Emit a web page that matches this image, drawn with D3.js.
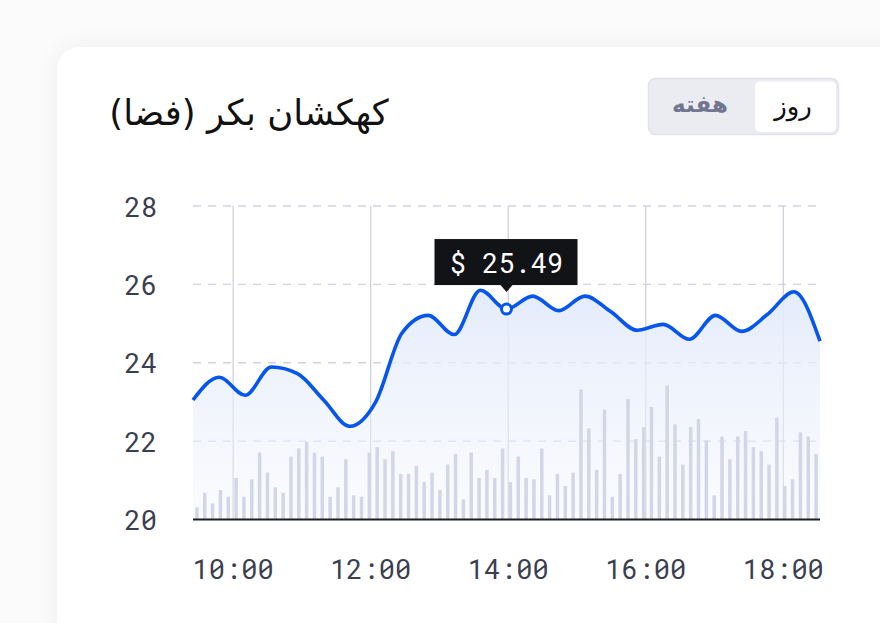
<!DOCTYPE html>
<html>
<head>
<meta charset="utf-8">
<script src="https://cdn.jsdelivr.net/npm/d3@7"></script>
<style>
  html, body { margin: 0; padding: 0; background: #fbfbfb; overflow: hidden; }
  body { width: 880px; height: 623px; position: relative; }
  #card { position: absolute; left: 57px; top: 47px; width: 900px; height: 700px;
          background: #fff; border-radius: 22px; box-shadow: 0 0 26px rgba(0,0,0,0.055); }
  svg { position: absolute; left: 0; top: 0; }
</style>
</head>
<body>
<div id="card"></div>
<svg id="chart" width="880" height="623"></svg>
<script>
// ---- data ----
const title = "کهکشان بکر (فضا)";
const toggleLabels = ["روز", "هفته"];
const priceValues = [23.05, 23.63, 23.17, 23.89, 23.72, 23.05, 22.38, 23.01, 24.76, 25.21,
  24.72, 25.85, 25.37, 25.70, 25.33, 25.70, 25.30, 24.83, 24.98, 24.60,
  25.21, 24.80, 25.24, 25.81, 24.55];
const volumeValues = [9, 20, 12, 22, 17, 31, 17, 30, 50, 35, 24, 20, 47, 53, 58, 50, 47, 17, 24, 45,
  18, 17, 50, 54, 45, 51, 34, 34, 40, 28, 35, 22, 41, 49, 15, 50, 31, 37, 31, 53,
  28, 47, 31, 30, 53, 18, 34, 25, 35, 97, 68, 37, 82, 17, 34, 90, 60, 69, 84, 47,
  100, 71, 41, 69, 75, 59, 18, 62, 45, 62, 66, 54, 51, 41, 76, 25, 30, 65, 62, 49];
const yTicks = [20, 22, 24, 26, 28];
const timeStart = new Date(2024, 0, 1, 9, 25);
const timeEnd = new Date(2024, 0, 1, 18, 32);
const tooltipIndex = 12;
const tooltipLabel = "$ 25.49";

// ---- layout ----
const L = 193, R = 820, T = 206, B = 519.5;
const mono = "'Roboto Mono', 'DejaVu Sans Mono', monospace";
const svg = d3.select("#chart");

const y = d3.scaleLinear().domain([20, 28]).range([B, T]);
const xp = d3.scalePoint().domain(d3.range(priceValues.length)).range([L, R]);
const xb = d3.scaleBand().domain(d3.range(volumeValues.length)).range([L, R])
  .paddingInner(0.55).paddingOuter(0.275);
const vol = d3.scaleLinear().domain([0, 100]).range([0, 134]);
const xt = d3.scaleTime().domain([timeStart, timeEnd]).range([L, R]);

// gradient
const defs = svg.append("defs");
const grad = defs.append("linearGradient").attr("id", "areaGrad")
  .attr("x1", 0).attr("y1", 0).attr("x2", 0).attr("y2", 1);
grad.append("stop").attr("offset", "0%").attr("stop-color", "#e2eafb").attr("stop-opacity", 0.95);
grad.append("stop").attr("offset", "100%").attr("stop-color", "#f0f3fb").attr("stop-opacity", 0.3);

// title
svg.append("text").attr("x", 249).attr("y", 112)
  .attr("text-anchor", "middle").attr("dominant-baseline", "central")
  .attr("direction", "rtl")
  .style("font-family", "'DejaVu Sans', sans-serif").style("font-size", "35.5px")
  .attr("fill", "#111").text(title);

// toggle
svg.append("rect").attr("x", 648.5).attr("y", 78.5).attr("width", 190).attr("height", 56)
  .attr("rx", 7).attr("fill", "#ebecf2").attr("stroke", "#e2e3ea").attr("stroke-width", 1.5);
svg.append("rect").attr("x", 755).attr("y", 81.5).attr("width", 81).attr("height", 50.5)
  .attr("rx", 5).attr("fill", "#fff");
svg.append("text").attr("x", 793).attr("y", 106).attr("text-anchor", "middle")
  .attr("dominant-baseline", "central").attr("direction", "rtl")
  .style("font-family", "'DejaVu Sans', sans-serif").style("font-size", "26px")
  .attr("fill", "#111").text(toggleLabels[0]);
svg.append("text").attr("x", 700).attr("y", 104).attr("text-anchor", "middle")
  .attr("dominant-baseline", "central").attr("direction", "rtl")
  .style("font-family", "'DejaVu Sans', sans-serif").style("font-size", "23px").style("font-weight", "bold")
  .attr("fill", "#727590").text(toggleLabels[1]);

// horizontal dashed grid
svg.append("g").selectAll("line").data(yTicks.filter(d => d > 20)).join("line")
  .attr("x1", L).attr("x2", R).attr("y1", d => y(d)).attr("y2", d => y(d))
  .attr("stroke", "#cfd2e2").attr("stroke-width", 1.3).attr("stroke-dasharray", "8,7");

// vertical grid
const tTicks = xt.ticks(d3.timeHour.every(2));
svg.append("g").selectAll("line").data(tTicks).join("line")
  .attr("x1", d => xt(d)).attr("x2", d => xt(d)).attr("y1", T).attr("y2", B)
  .attr("stroke", "#cdced8").attr("stroke-width", 1.2);

// area
const area = d3.area().x((d, i) => xp(i)).y0(B).y1(d => y(d)).curve(d3.curveMonotoneX);
svg.append("path").datum(priceValues).attr("d", area).attr("fill", "url(#areaGrad)");

// bars
svg.append("g").selectAll("rect").data(volumeValues).join("rect")
  .attr("x", (d, i) => xb(i)).attr("width", xb.bandwidth())
  .attr("y", d => B - vol(d)).attr("height", d => vol(d))
  .attr("fill", "#d3d6e6");

// baseline
svg.append("line").attr("x1", L).attr("x2", R).attr("y1", B).attr("y2", B)
  .attr("stroke", "#1e1f24").attr("stroke-width", 2);

// line
const line = d3.line().x((d, i) => xp(i)).y(d => y(d)).curve(d3.curveMonotoneX);
svg.append("path").datum(priceValues).attr("d", line).attr("fill", "none")
  .attr("stroke", "#0656ee").attr("stroke-width", 3.6).attr("stroke-linejoin", "round");

// y labels
svg.append("g").selectAll("text").data(yTicks).join("text")
  .attr("x", 157).attr("y", d => y(d)).attr("text-anchor", "end")
  .attr("dominant-baseline", "central")
  .style("font-family", mono).style("font-size", "27px").attr("fill", "#3b3e4f")
  .text(d => d);

// x labels
const fmt = d3.timeFormat("%H:%M");
svg.append("g").selectAll("text").data(tTicks).join("text")
  .attr("x", d => xt(d)).attr("y", 568).attr("text-anchor", "middle")
  .attr("dominant-baseline", "central")
  .style("font-family", mono).style("font-size", "27px").attr("fill", "#3b3e4f")
  .text(d => fmt(d));

// tooltip
const px = xp(tooltipIndex), py = y(priceValues[tooltipIndex]);
svg.append("circle").attr("cx", px).attr("cy", py).attr("r", 5)
  .attr("fill", "#fff").attr("stroke", "#0656ee").attr("stroke-width", 3);
const tb = py - 24;
svg.append("rect").attr("x", px - 72).attr("y", tb - 46).attr("width", 143).attr("height", 46)
  .attr("fill", "#121316");
svg.append("path").attr("d", `M${px - 6},${tb} L${px + 6},${tb} L${px},${tb + 7} Z`)
  .attr("fill", "#121316");
svg.append("text").attr("x", px).attr("y", tb - 23).attr("text-anchor", "middle")
  .attr("dominant-baseline", "central")
  .style("font-family", mono).style("font-size", "27px").attr("fill", "#fff")
  .text(tooltipLabel);
</script>
</body>
</html>
